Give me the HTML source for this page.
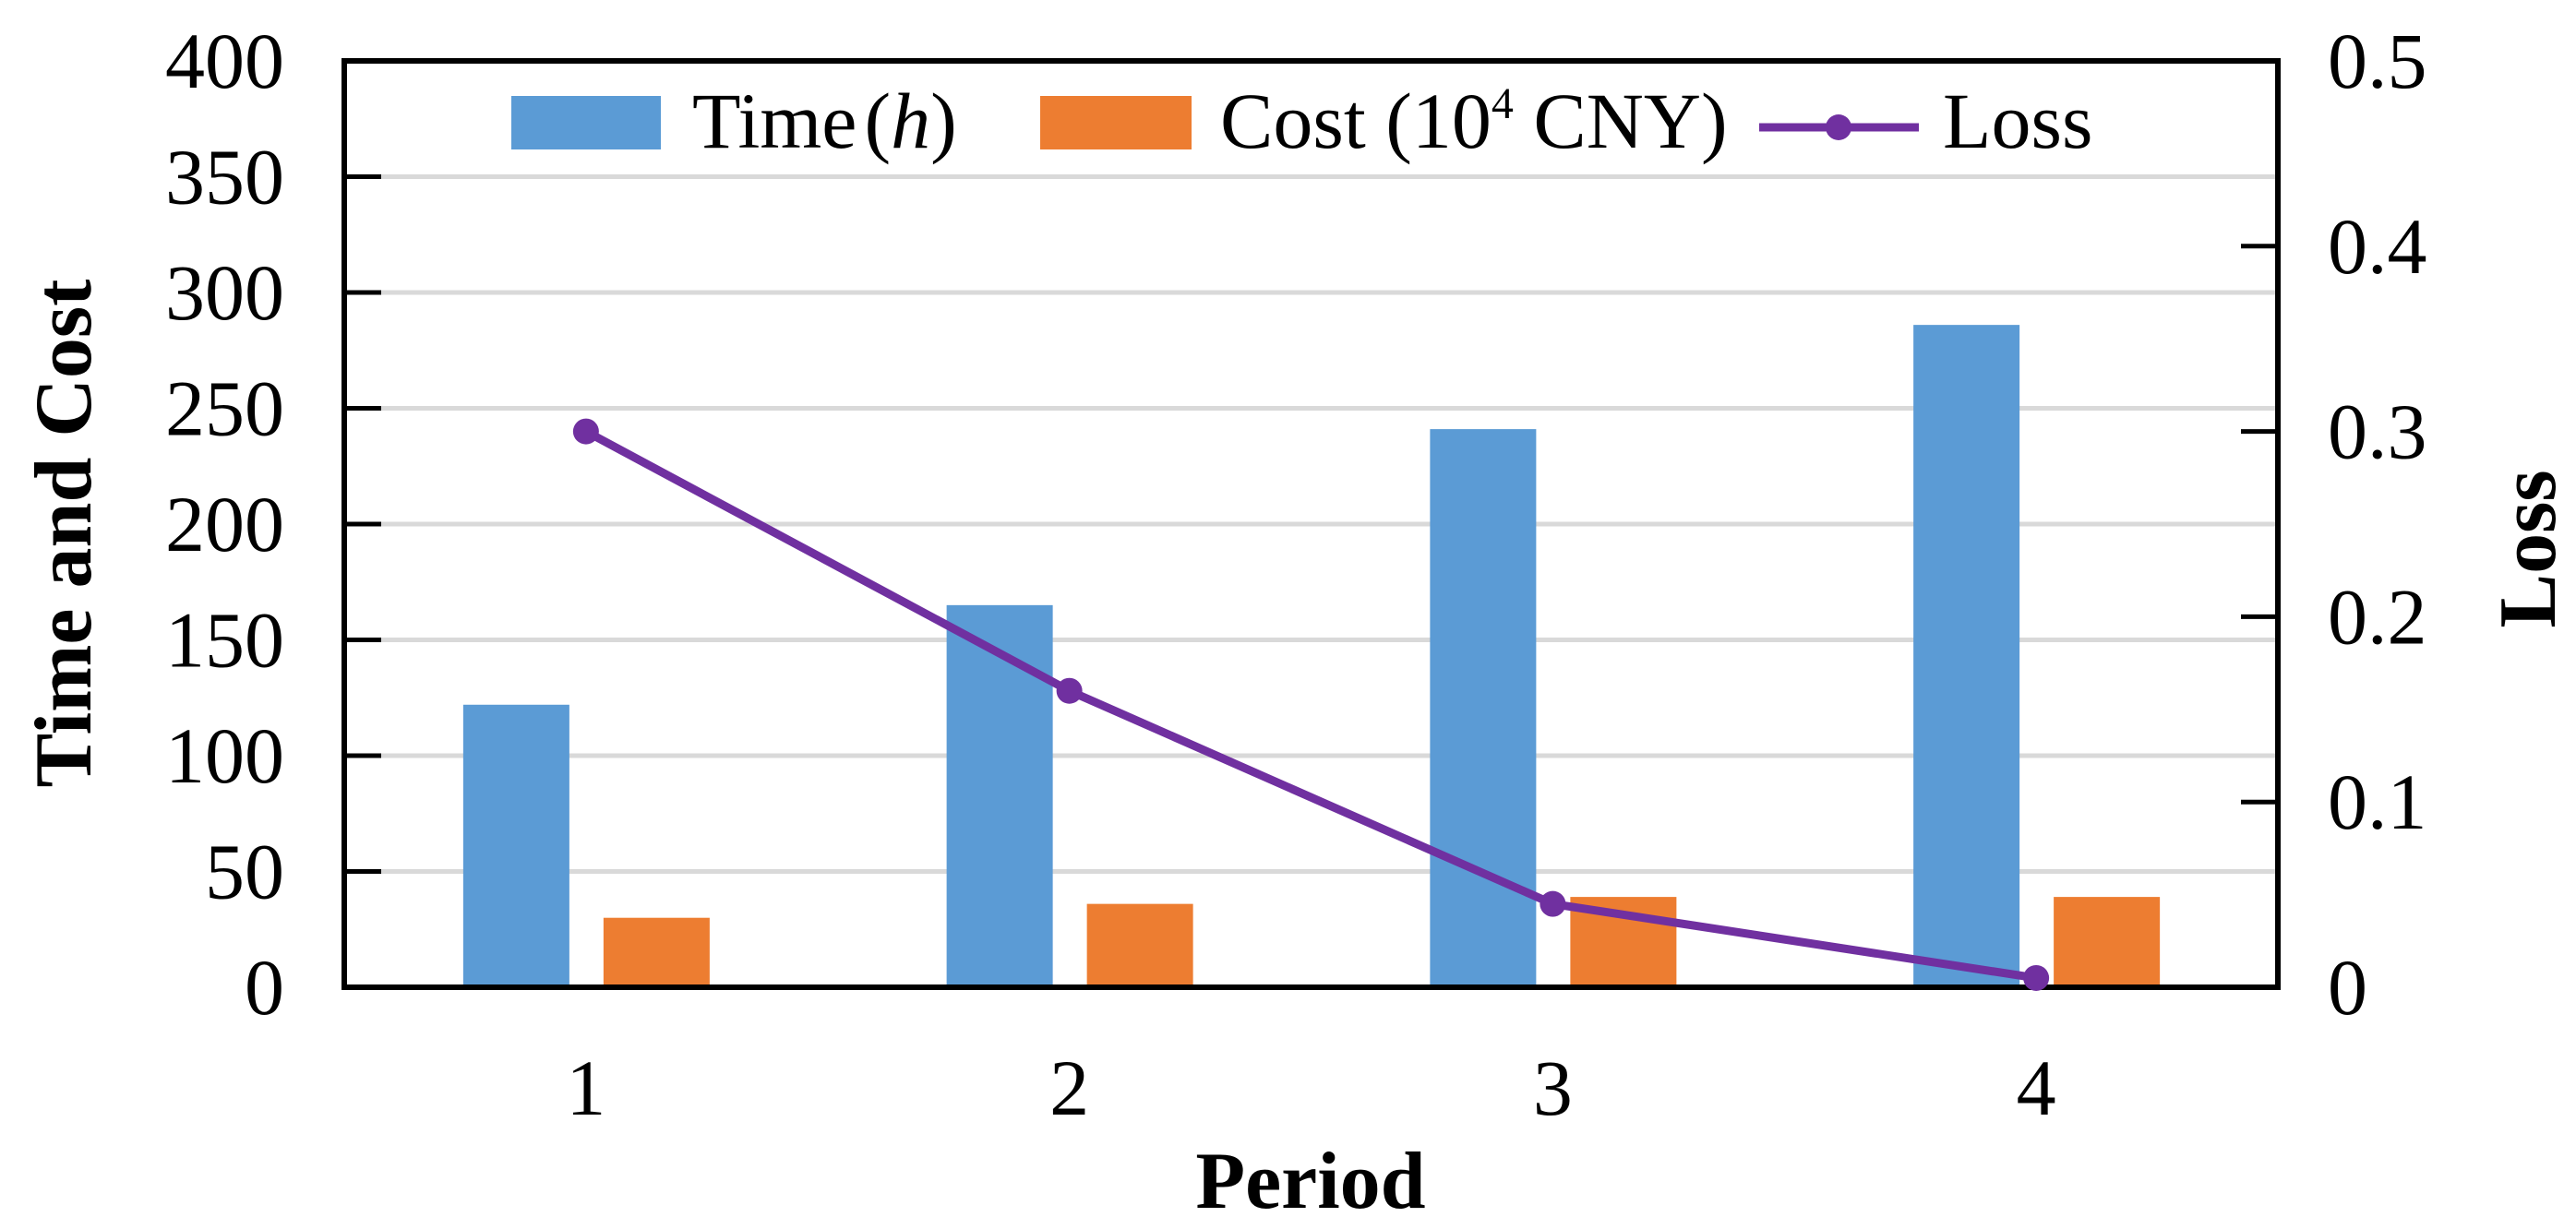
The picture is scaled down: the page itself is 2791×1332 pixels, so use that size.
<!DOCTYPE html>
<html><head><meta charset="utf-8"><style>
html,body{margin:0;padding:0;background:#fff;}
svg{display:block;font-family:"Liberation Serif",serif;}
</style></head><body>
<svg id="chart" width="2791" height="1332" viewBox="0 0 2791 1332" xmlns="http://www.w3.org/2000/svg">
<g id="grid"></g>
<g id="bars"></g>
<g id="axes"></g>
<g id="line"></g>
<g id="labels"></g>
<text x="0" y="0" transform="translate(98,578) rotate(-90)" text-anchor="middle" font-size="88" font-weight="bold">Time and Cost</text>
<text x="0" y="0" transform="translate(2768,595) rotate(-90)" text-anchor="middle" font-size="88" font-weight="bold">Loss</text>
<text x="1420" y="1309" text-anchor="middle" font-size="88" font-weight="bold">Period</text>
<g>
  <rect x="554" y="104" width="162" height="58" fill="#5b9bd5"/>
  <text x="750" y="160" font-size="86">Time<tspan dx="8">(</tspan><tspan font-style="italic">h</tspan>)</text>
  <rect x="1127" y="104" width="164" height="58" fill="#ed7d31"/>
  <text x="1322" y="160" font-size="86">Cost (10<tspan font-size="48" dy="-32">4</tspan><tspan dy="32"> CNY)</tspan></text>
  <line x1="1906" y1="138" x2="2079" y2="138" stroke="#7030a0" stroke-width="9"/>
  <circle cx="1992" cy="138" r="14" fill="#7030a0"/>
  <text x="2105" y="160" font-size="86">Loss</text>
</g>
</svg>
<script>
const categories = ["1","2","3","4"];
const timeValues = [122,165,241,286];
const costValues = [30,36,39,39];
const lossValues = [0.3,0.16,0.045,0.005];
const leftTicks = [0,50,100,150,200,250,300,350,400];
const rightTicks = ["0","0.1","0.2","0.3","0.4","0.5"];

const NS="http://www.w3.org/2000/svg";
const L=373,R=2468,T=66,B=1070;
const yL=v=>B-(v/400)*(B-T);
const yR=v=>B-(v/0.5)*(B-T);
const band=(R-L)/categories.length;
const xC=i=>L+band*(i+0.5);
function mk(tag,attrs,parent){const e=document.createElementNS(NS,tag);for(const k in attrs)e.setAttribute(k,attrs[k]);document.getElementById(parent).appendChild(e);return e;}

leftTicks.forEach((t,i)=>{
  if(t>0&&t<400){const g=mk('line',{x1:L,x2:R,y1:yL(t),y2:yL(t),stroke:'#d9d9d9','stroke-width':5},'grid');
  
  }
  if(t>0&&t<400){const tk=mk('line',{x1:L,x2:L+40,y1:yL(t),y2:yL(t),stroke:'#000','stroke-width':5},'axes');
  
  }
  const lb=mk('text',{x:308,y:yL(t)+29,'text-anchor':'end','font-size':86},'labels');
  lb.textContent=t;
  
  
});
rightTicks.forEach(t=>{
  const v=parseFloat(t);
  if(v>0&&v<0.5){const tk=mk('line',{x1:R-40,x2:R,y1:yR(v),y2:yR(v),stroke:'#000','stroke-width':5},'axes');
  
  }
  const lb=mk('text',{x:2522,y:yR(v)+29,'font-size':86},'labels');
  lb.textContent=t;
  
  
});
categories.forEach((c,i)=>{
  const b1=mk('rect',{x:xC(i)-133,y:yL(timeValues[i]),width:115,height:B-yL(timeValues[i]),fill:'#5b9bd5'},'bars');
  
  
  const b2=mk('rect',{x:xC(i)+19,y:yL(costValues[i]),width:115,height:B-yL(costValues[i]),fill:'#ed7d31'},'bars');
  
  
  const lb=mk('text',{x:xC(i),y:1208,'text-anchor':'middle','font-size':86},'labels');
  lb.textContent=c;
  
  
});
const pts=lossValues.map((v,i)=>xC(i)+','+yR(v)).join(' ');
const pl=mk('polyline',{points:pts,fill:'none',stroke:'#7030a0','stroke-width':9,'stroke-linejoin':'round'},'line');


lossValues.forEach((v,i)=>{
  const c=mk('circle',{cx:xC(i),cy:yR(v),r:14,fill:'#7030a0'},'line');
  
  
});
const frame=mk('rect',{x:L,y:T,width:R-L,height:B-T,fill:'none',stroke:'#000','stroke-width':6},'axes');


</script>
</body></html>
